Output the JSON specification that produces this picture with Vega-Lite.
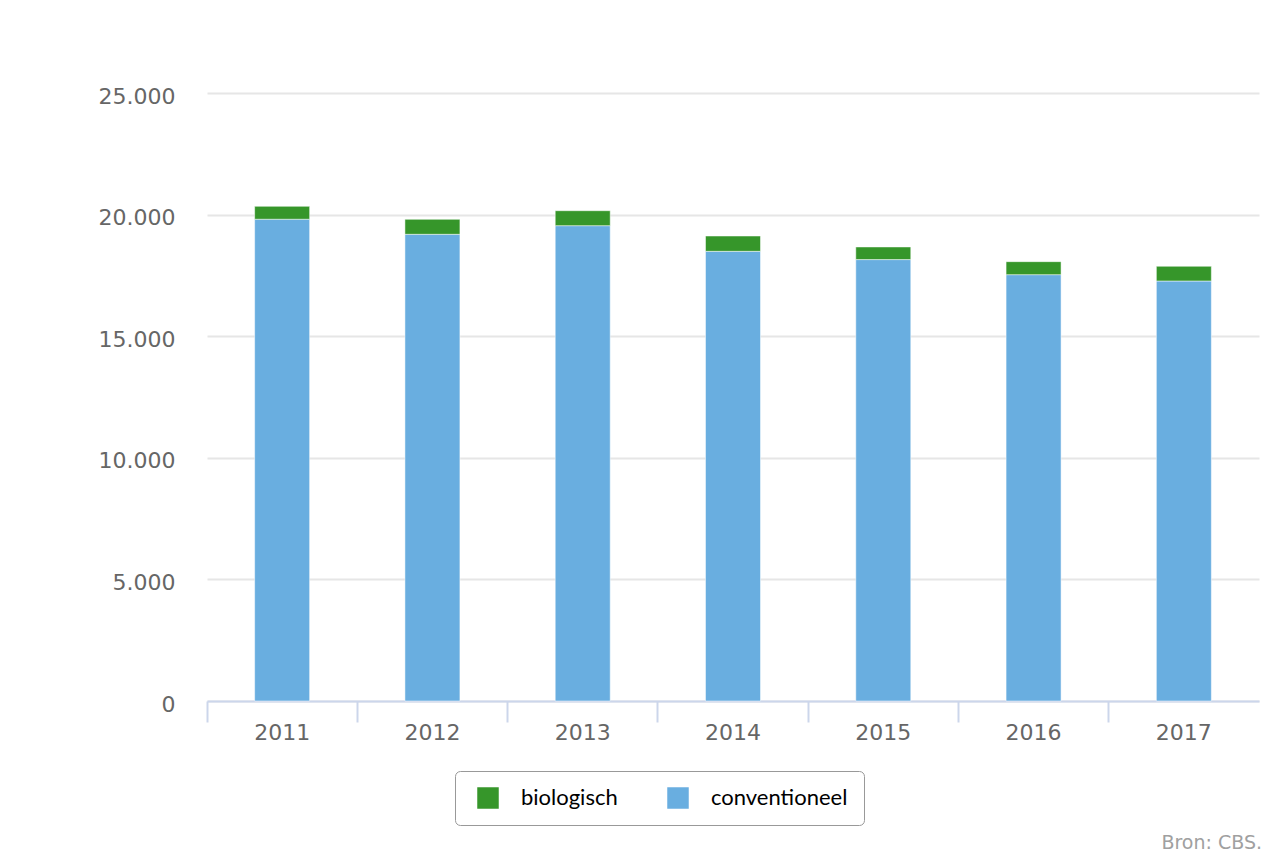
{
  "$schema": "https://vega.github.io/schema/vega-lite/v6.json",
  "autosize": {"type": "none"},
  "width": 1052,
  "height": 608,
  "padding": {"left": 207, "top": 93, "right": 7, "bottom": 154},
  "background": "#ffffff",
  "title": {
    "text": "Bron: CBS.",
    "orient": "bottom",
    "anchor": "end",
    "frame": "group",
    "offset": 8,
    "dx": 3,
    "font": "DejaVu Sans",
    "fontSize": 19,
    "fontWeight": "normal",
    "color": "#a0a0a0"
  },
  "data": {
    "values": [
      {"jaar": "2011", "type": "conventioneel", "aantal": 19810},
      {"jaar": "2011", "type": "biologisch", "aantal": 530},
      {"jaar": "2012", "type": "conventioneel", "aantal": 19190},
      {"jaar": "2012", "type": "biologisch", "aantal": 615},
      {"jaar": "2013", "type": "conventioneel", "aantal": 19545},
      {"jaar": "2013", "type": "biologisch", "aantal": 615},
      {"jaar": "2014", "type": "conventioneel", "aantal": 18490},
      {"jaar": "2014", "type": "biologisch", "aantal": 630},
      {"jaar": "2015", "type": "conventioneel", "aantal": 18150},
      {"jaar": "2015", "type": "biologisch", "aantal": 520},
      {"jaar": "2016", "type": "conventioneel", "aantal": 17530},
      {"jaar": "2016", "type": "biologisch", "aantal": 535},
      {"jaar": "2017", "type": "conventioneel", "aantal": 17270},
      {"jaar": "2017", "type": "biologisch", "aantal": 605}
    ]
  },
  "mark": {"type": "bar", "width": {"band": 0.366}, "stroke": "#ffffff", "strokeWidth": 1, "strokeOpacity": 0.5},
  "encoding": {
    "x": {
      "field": "jaar",
      "type": "nominal",
      "scale": {"paddingInner": 0, "paddingOuter": 0},
      "axis": {
        "title": null,
        "labelAngle": 0,
        "bandPosition": 0,
        "domainColor": "#ccd6eb",
        "domainWidth": 2,
        "tickColor": "#ccd6eb",
        "tickWidth": 2,
        "tickSize": 21,
        "labelPadding": 0,
        "labelFont": "DejaVu Sans",
        "labelFontSize": 22,
        "labelColor": "#666666",
        "grid": false
      }
    },
    "y": {
      "field": "aantal",
      "type": "quantitative",
      "stack": "zero",
      "scale": {"domain": [0, 25000], "nice": false},
      "axis": {
        "title": null,
        "values": [0, 5000, 10000, 15000, 20000, 25000],
        "labelExpr": "replace(format(datum.value, ','), ',', '.')",
        "domain": false,
        "ticks": false,
        "labelPadding": 32,
        "labelOffset": 3,
        "labelFont": "DejaVu Sans",
        "labelFontSize": 22,
        "labelColor": "#666666",
        "grid": true,
        "gridColor": "#e6e6e6",
        "gridWidth": 2
      }
    },
    "color": {
      "field": "type",
      "type": "nominal",
      "scale": {"domain": ["biologisch", "conventioneel"], "range": ["#36962a", "#69aee0"]},
      "legend": {
        "title": null,
        "orient": "none",
        "legendX": 248,
        "legendY": 678,
        "direction": "horizontal",
        "symbolType": "square",
        "symbolSize": 462,
        "symbolStrokeWidth": 0,
        "symbolFillOpacity": 1,
        "symbolOffset": 6,
        "labelOffset": 22,
        "columnPadding": 43,
        "labelFont": "Lato",
        "labelFontSize": 22,
        "labelColor": "#000000",
        "padding": 16,
        "strokeColor": "#999999",
        "cornerRadius": 5
      }
    },
    "order": {"field": "type", "sort": "descending"}
  },
  "config": {
    "view": {"stroke": null}
  }
}
